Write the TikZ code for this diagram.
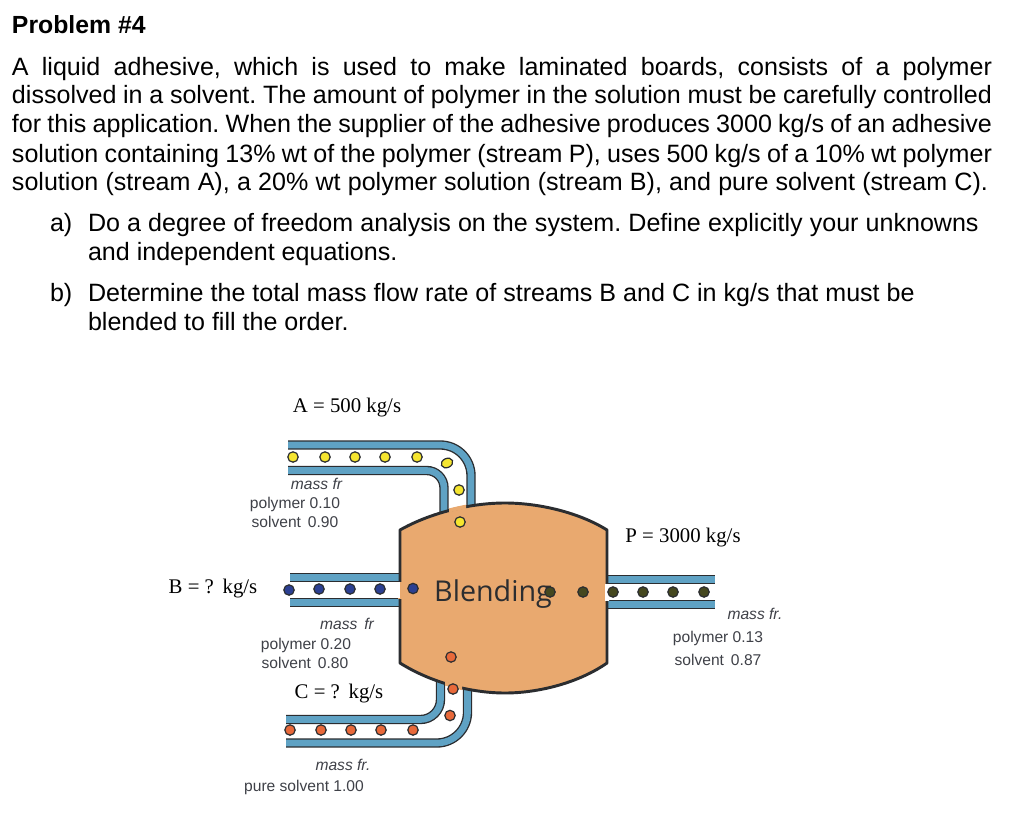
\documentclass[tikz,border=0pt]{standalone}
\usepackage{fontspec}
\usetikzlibrary{shapes.geometric}
\setmainfont{Liberation Sans}
\newfontfamily\serifface{Liberation Serif}
\newfontfamily\blendface{Open Sans}
\definecolor{bandblue}{HTML}{5FA2C4}
\definecolor{darkedge}{HTML}{2B2D30}
\definecolor{tankfill}{HTML}{E9A96F}
\definecolor{dotyellow}{HTML}{F5E52F}
\definecolor{dotblue}{HTML}{2B3F92}
\definecolor{dotorange}{HTML}{E8693A}
\definecolor{dotolive}{HTML}{45481F}
\definecolor{labelgray}{HTML}{3F4148}
\newcommand\tankoutline{(400,530) .. controls (430,513) and (470,503) .. (505,503) .. controls (540,503) and (580,513) .. (607,530) -- (607,663) .. controls (580,682) and (540,693) .. (505,693) .. controls (470,693) and (430,682) .. (400,663) -- cycle}
\tikzset{
  x=0.75pt,y=-0.75pt,
  para/.style={anchor=base west,inner sep=0pt,outer sep=0pt,font=\fontsize{18.8}{20}\selectfont,text=black},
  head/.style={anchor=base west,inner sep=0pt,outer sep=0pt,font=\bfseries\fontsize{18.6}{20}\selectfont,text=black},
  flow/.style={anchor=base,inner sep=0pt,outer sep=0pt,font=\serifface\fontsize{15.6}{16}\selectfont,text=black},
  small/.style={anchor=base,inner sep=0pt,outer sep=0pt,font=\fontsize{11.7}{12}\selectfont,text=labelgray},
  smallit/.style={small,font=\itshape\fontsize{11.7}{12}\selectfont},
  bandedge/.style={draw=darkedge,line width=7pt,line cap=butt},
  bandcore/.style={draw=bandblue,line width=5pt,line cap=butt},
  dot/.style={circle,draw=darkedge,line width=0.9pt,minimum size=7.8pt,inner sep=0pt},
  eggdot/.style={ellipse,draw=darkedge,line width=0.9pt,minimum width=9pt,minimum height=6.8pt,inner sep=0pt},
}
\newcommand\band[1]{\path[bandedge] #1; \path[bandcore] #1;}
\frenchspacing
\begin{document}
\begin{tikzpicture}
\useasboundingbox (0,0) rectangle (1024,820);
\fill[white] (0,0) rectangle (1024,820);
% text block
\node[head] (title) at (12,33.5) {Problem \#4};
\node[para] (l1) at (12,75.5) {\makebox[735pt][s]{A liquid adhesive, which is used to make laminated boards, consists of a polymer}};
\node[para] (l2) at (12,104) {\makebox[735pt][s]{dissolved in a solvent. The amount of polymer in the solution must be carefully controlled}};
\node[para] (l3) at (12,133) {\makebox[735pt][s]{for this application. When the supplier of the adhesive produces 3000 kg/s of an adhesive}};
\node[para] (l4) at (12,162) {\makebox[735pt][s]{solution containing 13\% wt of the polymer (stream P), uses 500 kg/s of a 10\% wt polymer}};
\node[para] (l5) at (12,190.5) {\makebox[732pt][s]{solution (stream A), a 20\% wt polymer solution (stream B), and pure solvent (stream C).}};
\node[para] (al) at (50,231.5) {a)};
\node[para] (a1) at (88,231.5) {\makebox[668pt][s]{Do a degree of freedom analysis on the system. Define explicitly your unknowns}};
\node[para] (a2) at (88,260) {and independent equations.};
\node[para] (bl) at (50,301.5) {b)};
\node[para] (b1) at (88,301.5) {\makebox[620pt][s]{Determine the total mass flow rate of streams B and C in kg/s that must be}};
\node[para] (b2) at (88,330.5) {blended to fill the order.};
% pipes
\begin{scope}[rounded corners=23pt]
\band{(288,445) -- (471,445) -- (471,515)}
\end{scope}
\begin{scope}[rounded corners=13pt]
\band{(288,470.5) -- (444,470.5) -- (444,520)}
\end{scope}
\band{(290,577.5) -- (402,577.5)}
\band{(290,602.5) -- (402,602.5)}
\band{(605,579.5) -- (715,579.5)}
\band{(605,604.5) -- (715,604.5)}
\begin{scope}[rounded corners=23pt]
\band{(286,743) -- (467.5,743) -- (467.5,680)}
\end{scope}
\begin{scope}[rounded corners=15pt]
\band{(286,719.5) -- (440.5,719.5) -- (440.5,675)}
\end{scope}
% tank
\path[fill=tankfill,draw=darkedge,line width=2.2pt,line join=bevel] \tankoutline;
% openings of the tank wall
\begin{scope}
\clip (449,495) rectangle (466,520);
\path[draw=tankfill,line width=3pt] \tankoutline;
\end{scope}
\begin{scope}
\clip (445,675) rectangle (462,700);
\path[draw=tankfill,line width=3pt] \tankoutline;
\end{scope}
\begin{scope}
\clip (395,582) rectangle (403,598);
\path[draw=tankfill,line width=3pt] \tankoutline;
\fill[white] (395,582) rectangle (399.5,598);
\end{scope}
\begin{scope}
\clip (604,584) rectangle (612,600);
\path[draw=white,line width=3pt] \tankoutline;
\end{scope}
% dots: stream A
\foreach \n/\px/\py in {1/293/457,2/325/457,3/355/457,4/385/457,5/417/457,7/459/490,8/460/522}
  \node[dot,fill=dotyellow] (ya\n) at (\px,\py) {};
\node[eggdot,fill=dotyellow,rotate=25] (ya6) at (447,463) {};
% dots: stream B
\foreach \n/\px/\py in {1/289/590,2/319/589,3/350/589,4/380/589,5/413/588.5}
  \node[dot,fill=dotblue] (bl\n) at (\px,\py) {};
% dots: stream C
\foreach \n/\px/\py in {1/290/730,2/321/730,3/351/730,4/381/730,5/413/730,6/450/715.5,7/453/689,8/451/657}
  \node[dot,fill=dotorange] (or\n) at (\px,\py) {};
% blending label
\node[anchor=base,inner sep=0pt,font=\blendface\fontsize{21.5}{24}\selectfont,text=darkedge] (blend) at (493,601.5) {Blending};
% dots: stream P
\foreach \n/\px/\py in {1/550/592,2/583/592,3/613/592,4/643/592,5/673/592,6/704/592}
  \node[dot,fill=dotolive] (ol\n) at (\px,\py) {};
% labels
\node[flow] (fa) at (347,412.5) {A = 500 kg/s};
\node[flow] (fb) at (213,593.5) {B = ?\, kg/s};
\node[flow] (fc) at (339,698.5) {C = ?\, kg/s};
\node[flow] (fp) at (683,542.5) {P = 3000 kg/s};
\node[smallit] (ma) at (316.5,489.5) {mass fr};
\node[small] (ma1) at (295,508.5) {polymer 0.10};
\node[small] (ma2) at (295,527.5) {solvent\, 0.90};
\node[smallit] (mb) at (347,629.5) {mass\, fr};
\node[small] (mb1) at (306,649.5) {polymer 0.20};
\node[small] (mb2) at (305,668.5) {solvent\, 0.80};
\node[smallit] (mc) at (343,770.5) {mass fr.};
\node[small] (mc1) at (304,791.5) {pure solvent 1.00};
\node[smallit] (mp) at (755,619.5) {mass fr.};
\node[small] (mp1) at (718,642.5) {polymer 0.13};
\node[small] (mp2) at (718,665.5) {solvent\, 0.87};
\end{tikzpicture}
\end{document}
